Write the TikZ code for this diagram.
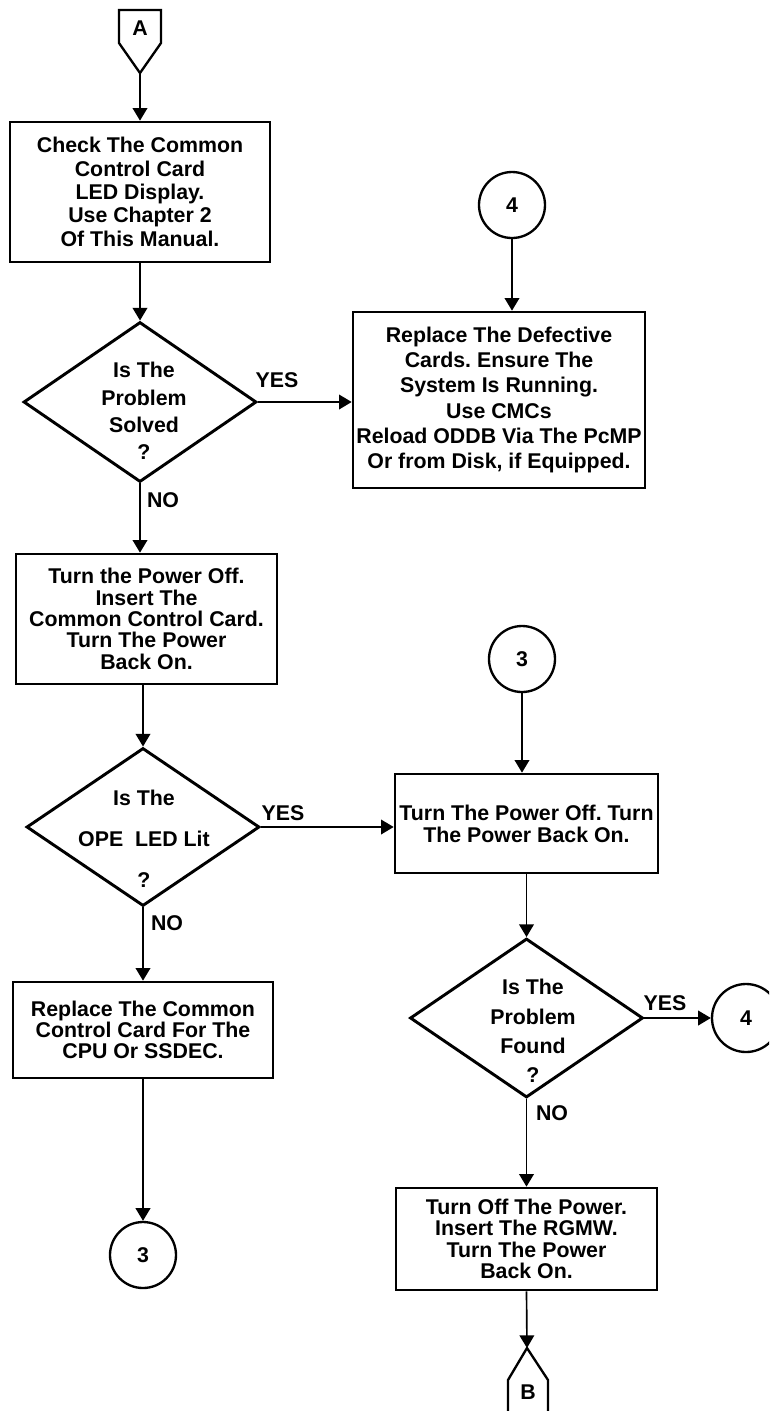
\documentclass[tikz,border=0pt]{standalone}
\usepackage{fontspec}
\setmainfont{Liberation Sans}
\usetikzlibrary{shapes.geometric,arrows.meta}
\begin{document}
\frenchspacing
\begin{tikzpicture}[x=0.75pt,y=-0.75pt,
  every node/.style={font=\bfseries\fontsize{16pt}{17.5pt}\selectfont},
  box/.style={draw,line width=2pt,align=center,inner sep=0pt},
  dia/.style={draw,diamond,line width=2.2pt,inner sep=0pt,minimum width=174.75pt},
  diatext/.style={align=center,inner sep=0pt},
  conn/.style={draw,circle,line width=1.75pt,inner sep=0pt,minimum size=49.5pt,
    font=\bfseries\fontsize{16pt}{18pt}\selectfont},
  offpage/.style={line width=1.75pt,line join=miter},
  arr/.style={line width=1.25pt,-{Triangle[length=9.5pt,width=11pt]}},
  lbl/.style={inner sep=0pt}]
\useasboundingbox (0,0) rectangle (769,1411);
\clip (0,0) rectangle (769,1411);

% off-page connector A
\draw[offpage] (119,10) -- (161,10) -- (161,43) -- (140,73) -- (119,43) -- cycle;
\node (Alab) at (140,28) {A};
\coordinate (Atip) at (140,73);

% left column
\node[box,minimum width=195pt,minimum height=105pt] (b1) at (140,192)
  {Check The Common\\Control Card\\LED Display.\\Use Chapter 2\\Of This Manual.};
\node[dia,minimum height=120pt] (d1) at (140,402) {};
\node[diatext,font=\bfseries\fontsize{16pt}{20.5pt}\selectfont] (d1t) at (144,411)
  {Is The\\Problem\\Solved\\?};
\node[box,minimum width=195.75pt,minimum height=97.5pt,font=\bfseries\fontsize{16pt}{16pt}\selectfont] (b3) at (146.5,619)
  {Turn the Power Off.\\Insert The\\Common Control Card.\\Turn The Power\\Back On.};
\node[dia,minimum height=118.5pt] (d2) at (143,827) {};
\node[diatext,font=\bfseries\fontsize{16pt}{30.75pt}\selectfont] (d2t) at (144,839)
  {Is The\\OPE\ \ LED Lit\\?};
\node[box,minimum width=195pt,minimum height=72pt,font=\bfseries\fontsize{16pt}{16pt}\selectfont] (b6) at (143,1030)
  {Replace The Common\\Control Card For The\\CPU Or SSDEC.};
\node[conn] (c3b) at (143,1255) {3};

% right column
\node[conn] (c4a) at (512,205) {4};
\node[box,minimum width=219pt,minimum height=132pt,font=\bfseries\fontsize{16pt}{19pt}\selectfont] (b2) at (499,400)
  {Replace The Defective\\Cards. Ensure The\\System Is Running.\\Use CMCs\\Reload ODDB Via The PcMP\\Or from Disk, if Equipped.};
\node[conn] (c3a) at (522,659) {3};
\node[box,minimum width=197.25pt,minimum height=74.25pt,font=\bfseries\fontsize{16pt}{16.5pt}\selectfont] (b4) at (526.5,823.5)
  {Turn The Power Off. Turn\\The Power Back On.};
\node[dia,minimum height=119.25pt] (d3) at (526.5,1018) {};
\node[diatext,font=\bfseries\fontsize{16pt}{22pt}\selectfont] (d3t) at (533,1031)
  {Is The\\Problem\\Found\\?};
\node[conn,minimum size=51pt] (c4b) at (746,1018) {4};
\node[box,minimum width=195.75pt,minimum height=76.5pt,font=\bfseries\fontsize{16pt}{16pt}\selectfont] (b5) at (526.5,1239)
  {Turn Off The Power.\\Insert The RGMW.\\Turn The Power\\Back On.};

% off-page connector B
\draw[offpage] (527,1348) -- (548,1380) -- (548,1440) -- (508,1440) -- (508,1380) -- cycle;
\node (Blab) at (528,1392) {B};
\coordinate (Btip) at (527,1348);

% branch labels
\node[lbl] (y1) at (277,380) {YES};
\node[lbl] (n1) at (163,500) {NO};
\node[lbl] (y2) at (283,813) {YES};
\node[lbl] (n2) at (167,923) {NO};
\node[lbl] (y3) at (665,1003) {YES};
\node[lbl] (n3) at (552,1113) {NO};

% flow lines
\draw[arr] (Atip) -- (b1.north);
\draw[arr] (b1.south) -- (d1.north);
\draw[arr] (d1.east) -- (d1.east -| b2.west);
\draw[arr] (d1.south) -- (d1.south |- b3.north);
\draw[arr] (c4a.south) -- (c4a.south |- b2.north);
\draw[arr] (d2.north |- b3.south) -- (d2.north);
\draw[arr] (d2.east) -- (d2.east -| b4.west);
\draw[arr] (d2.south) -- (b6.north);
\draw[arr] (b6.south) -- (c3b.north);
\draw[arr] (c3a.south) -- (c3a.south |- b4.north);
\draw[arr] (b4.south) -- (d3.north);
\draw[arr] (d3.east) -- (c4b.west);
\draw[arr] (d3.south) -- (b5.north);
\draw[arr] (b5.south) -- (Btip);
\end{tikzpicture}
\end{document}
